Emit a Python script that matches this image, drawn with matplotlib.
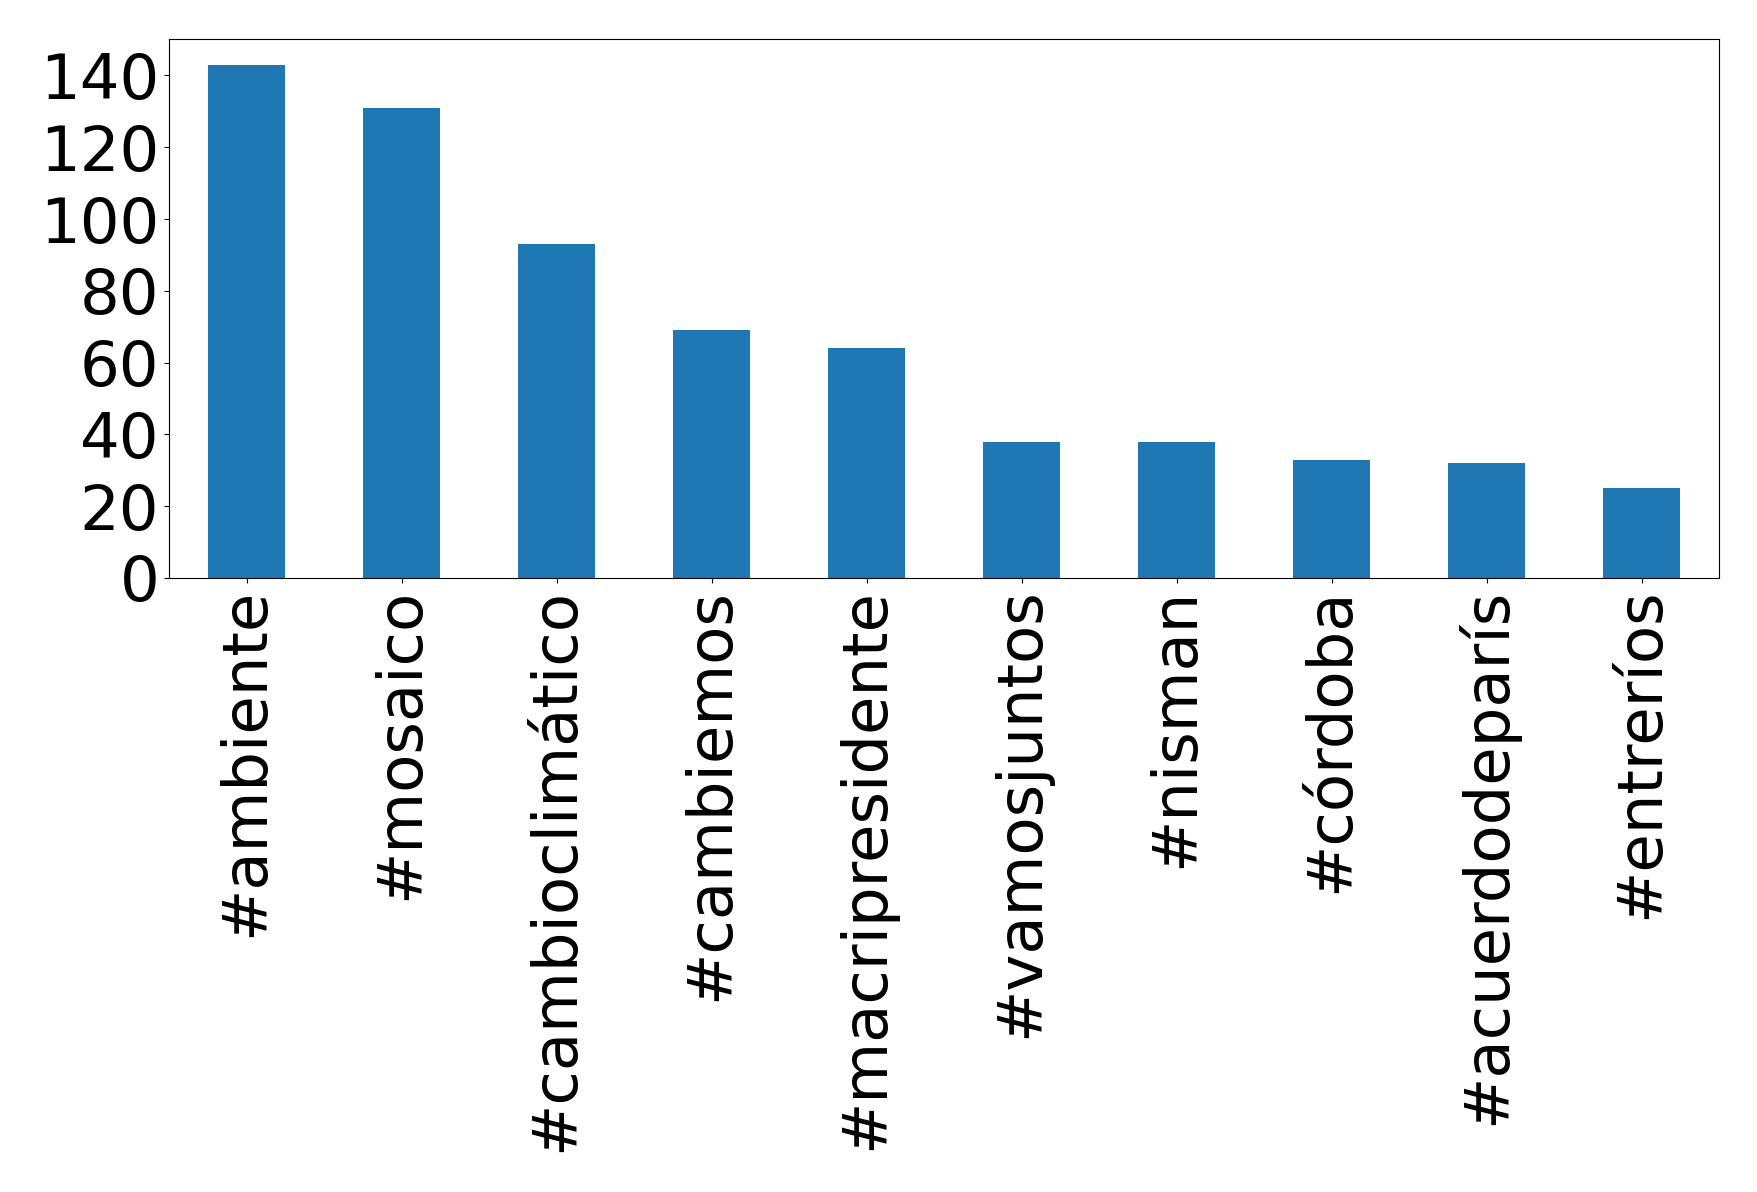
import numpy as np
import pandas as pd
import matplotlib
matplotlib.use("Agg")
import matplotlib.pyplot as plt

# hashtags y cantidad de apariciones
hashtags = ["#ambiente", "#mosaico", "#cambioclimático", "#cambiemos",
            "#macripresidente", "#vamosjuntos", "#nisman", "#córdoba",
            "#acuerdodeparís", "#entreríos"]
counts = [143, 131, 93, 69, 64, 38, 38, 33, 32, 25]
yticks = [0, 20, 40, 60, 80, 100, 120, 140]

serie = pd.Series(counts, index=hashtags)

fig = plt.figure(figsize=(17.58, 11.92), dpi=100)
ax = fig.add_axes([169 / 1758, 1 - 578 / 1192, (1719 - 169) / 1758, (578 - 39) / 1192])
serie.plot(kind="bar", ax=ax, color="#1f77b4")
ax.set_yticks(yticks)
ax.tick_params(axis="both", labelsize=45)
plt.setp(ax.get_xticklabels(), rotation=90)

plt.savefig("out.png", dpi=100)
